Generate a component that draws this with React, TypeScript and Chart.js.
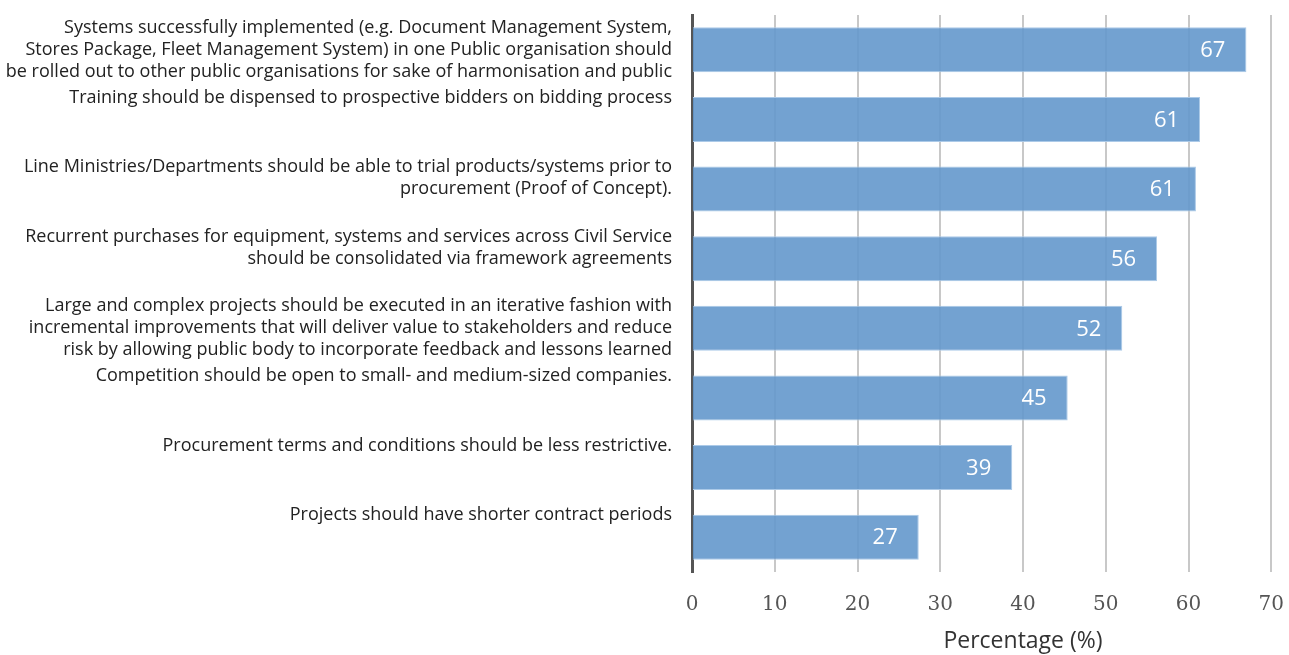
import { useEffect, useRef } from "react";
import { Chart, registerables } from "chart.js";

Chart.register(...registerables);

const categories: string[][] = [
  [
    "Systems successfully implemented (e.g. Document Management System,",
    "Stores Package, Fleet Management System) in one Public organisation should",
    "be rolled out to other public organisations for sake of harmonisation and public",
  ],
  ["Training should be dispensed to prospective bidders on bidding process", "", ""],
  [
    "Line Ministries/Departments should be able to trial products/systems prior to",
    "procurement (Proof of Concept).",
    "",
  ],
  [
    "Recurrent purchases for equipment, systems and services across Civil Service",
    "should be consolidated via framework agreements",
    "",
  ],
  [
    "Large and complex projects should be executed in an iterative fashion with",
    "incremental improvements that will deliver value to stakeholders and reduce",
    "risk by allowing public body to incorporate feedback and lessons learned",
  ],
  ["Competition should be open to small- and medium-sized companies.", "", ""],
  ["Procurement terms and conditions should be less restrictive.", "", ""],
  ["Projects should have shorter contract periods", "", ""],
];

const values: number[] = [67, 61.4, 60.9, 56.2, 52.0, 45.4, 38.7, 27.4];

const xMin = 0;
const xMax = 80;
const xStep = 10;

const LABEL_FONT = "'Open Sans', Lato, sans-serif";

const valueLabels = {
  id: "valueLabels",
  afterDatasetsDraw(chart: any) {
    const ctx = chart.ctx;
    const meta = chart.getDatasetMeta(0);
    ctx.save();
    ctx.fillStyle = "#ffffff";
    ctx.font = `22px ${LABEL_FONT}`;
    ctx.textAlign = "right";
    ctx.textBaseline = "middle";
    meta.data.forEach((bar: any, i: number) => {
      ctx.fillText(String(Math.round(values[i])), bar.x - 21, bar.y + 1);
    });
    ctx.restore();
  },
};

export default function App() {
  const ref = useRef<HTMLCanvasElement>(null);
  useEffect(() => {
    const chart = new Chart(ref.current!, {
      type: "bar",
      data: {
        labels: categories,
        datasets: [
          {
            data: values,
            backgroundColor: "rgba(100,152,204,0.9)",
            borderColor: "rgba(172,202,232,1)",
            borderWidth: 1,
            categoryPercentage: 1,
            barPercentage: 0.646,
          },
        ],
      },
      options: {
        indexAxis: "y",
        animation: false,
        responsive: false,
        layout: { padding: { top: 15, right: 30, bottom: 0, left: 0 } },
        plugins: {
          legend: { display: false },
          tooltip: { enabled: false },
        },
        scales: {
          x: {
            min: xMin,
            max: xMax,
            ticks: {
              stepSize: xStep,
              padding: 21,
              color: "#555",
              font: { family: "'DejaVu Serif', serif", size: 20 },
            },
            grid: { color: "#c8c8c8", lineWidth: 2, drawTicks: false },
            border: { display: false },
            title: {
              display: true,
              text: "Percentage (%)",
              color: "#333",
              font: { family: LABEL_FONT, size: 23 },
              padding: { top: 4, bottom: 0 },
            },
            afterFit(scale: any) {
              scale.height = 83;
              scale.paddingLeft = 0;
              scale.paddingRight = 0;
            },
          },
          y: {
            ticks: {
              padding: 20,
              color: "#222",
              font: { family: LABEL_FONT, size: 18, lineHeight: 1.222 },
            },
            grid: { display: false, drawTicks: false },
            border: { display: true, color: "#555", width: 3 },
            afterFit(scale: any) {
              scale.width = 692;
              scale.paddingTop = 0;
              scale.paddingBottom = 0;
            },
          },
        },
      },
      plugins: [valueLabels],
    });
    return () => chart.destroy();
  }, []);
  return (
    <div
      style={{
        position: "fixed",
        left: 0,
        top: 0,
        width: 1289,
        height: 655,
        overflow: "hidden",
        background: "#fff",
      }}
    >
      <canvas ref={ref} width={1384} height={655} style={{ display: "block" }} />
    </div>
  );
}
